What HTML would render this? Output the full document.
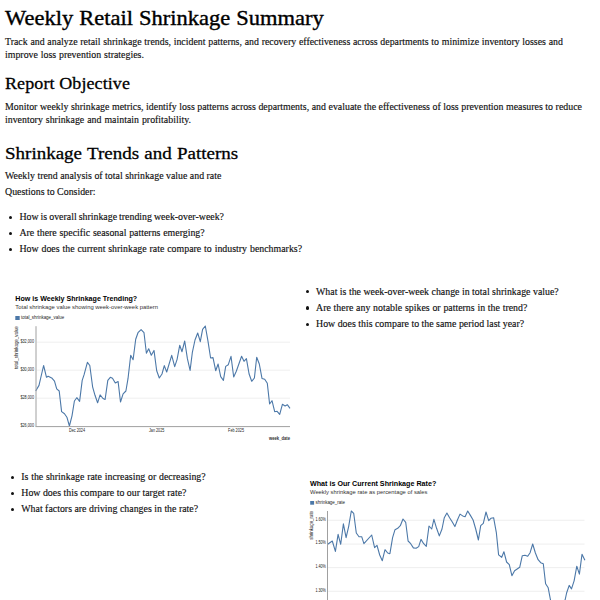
<!DOCTYPE html>
<html>
<head>
<meta charset="utf-8">
<title>Weekly Retail Shrinkage Summary</title>
<style>
html,body{margin:0;padding:0;background:#fff;}
body{width:600px;height:600px;overflow:hidden;position:relative;font-family:"Liberation Serif",serif;color:#000;}
.t{-webkit-text-stroke:0.15px currentColor;}
h2.t{-webkit-text-stroke:0.3px currentColor;}h1.t{-webkit-text-stroke:0.4px currentColor;}
.t{position:absolute;left:5px;white-space:nowrap;margin:0;font-weight:normal;}
h1.t{font-size:22.5px;line-height:22.5px;top:6.7px;transform:scaleY(0.93);transform-origin:0 18px;}
h2.t{line-height:18px;transform:scaleY(0.93);transform-origin:0 15px;}
p.t{font-size:9.9px;line-height:12.5px;color:#111;}
ul.t{list-style:none;padding:0;font-size:9.9px;line-height:16.1px;color:#111;}
ul.t li{position:relative;}
ul.t li::before{content:"";position:absolute;left:-8.7px;top:8.1px;width:3.2px;height:3.2px;margin-top:-1.6px;margin-left:-1.6px;border-radius:50%;background:#111;}
ul.b2 li::before{top:8.8px;}
svg{position:absolute;left:0;top:0;}
</style>
</head>
<body>
<h1 class="t" style="word-spacing:0.4px">Weekly Retail Shrinkage Summary</h1>
<p class="t" style="top:36px"><span style="word-spacing:0.25px">Track and analyze retail shrinkage trends, incident patterns, and recovery effectiveness across departments to minimize inventory losses and</span><br><span style="word-spacing:0.4px">improve loss prevention strategies.</span></p>
<h2 class="t" style="top:73.6px;font-size:18px;letter-spacing:0.1px">Report Objective</h2>
<p class="t" style="top:101.1px"><span style="word-spacing:0.1px">Monitor weekly shrinkage metrics, identify loss patterns across departments, and evaluate the effectiveness of loss prevention measures to reduce</span><br><span style="word-spacing:0.5px">inventory shrinkage and maintain profitability.</span></p>
<h2 class="t" style="top:144.1px;font-size:19px;word-spacing:0.5px">Shrinkage Trends and Patterns</h2>
<p class="t" style="top:170.1px">Weekly trend analysis of total shrinkage value and rate</p>
<p class="t" style="top:186.1px">Questions to Consider:</p>
<ul class="t" style="top:209.2px;left:19.4px">
<li style="word-spacing:-0.45px">How is overall shrinkage trending week-over-week?</li>
<li style="word-spacing:0.3px">Are there specific seasonal patterns emerging?</li>
<li style="word-spacing:0.42px">How does the current shrinkage rate compare to industry benchmarks?</li>
</ul>
<ul class="t" style="top:283.6px;left:316px;line-height:16.25px">
<li>What is the week-over-week change in total shrinkage value?</li>
<li style="word-spacing:0.3px">Are there any notable spikes or patterns in the trend?</li>
<li>How does this compare to the same period last year?</li>
</ul>
<ul class="t b2" style="top:468.6px;left:21.25px">
<li style="word-spacing:0.3px">Is the shrinkage rate increasing or decreasing?</li>
<li>How does this compare to our target rate?</li>
<li>What factors are driving changes in the rate?</li>
</ul>
<svg width="600" height="600" viewBox="0 0 600 600" font-family="Liberation Sans, sans-serif">
<g>
<text x="15.3" y="300.7" font-size="7.1" font-weight="bold" fill="#000" textLength="121.9" lengthAdjust="spacingAndGlyphs">How is Weekly Shrinkage Trending?</text>
<text x="15.3" y="308.8" font-size="5.9" fill="#333" textLength="142.7" lengthAdjust="spacingAndGlyphs">Total shrinkage value showing week-over-week pattern</text>
<rect x="15.3" y="316" width="4.4" height="4" fill="#4c78a8"/>
<text x="21" y="319.4" font-size="4.6" fill="#222" textLength="43.1" lengthAdjust="spacingAndGlyphs">total_shrinkage_value</text>
<g stroke="#e8e8e8" stroke-width="0.7">
<line x1="36.5" y1="342.2" x2="290" y2="342.2"/>
<line x1="36.5" y1="370.2" x2="290" y2="370.2"/>
<line x1="36.5" y1="398.2" x2="290" y2="398.2"/>
</g>
<g font-size="4.7" fill="#222" text-anchor="end">
<text x="34" y="342.8" textLength="13.6" lengthAdjust="spacingAndGlyphs">$32,000</text>
<text x="34" y="370.8" textLength="13.6" lengthAdjust="spacingAndGlyphs">$30,000</text>
<text x="34" y="398.8" textLength="13.6" lengthAdjust="spacingAndGlyphs">$28,000</text>
<text x="34" y="426.7" textLength="13.6" lengthAdjust="spacingAndGlyphs">$26,000</text>
</g>
<g font-size="4.7" fill="#222">
<text x="69" y="431.8" textLength="16" lengthAdjust="spacingAndGlyphs">Dec 2024</text>
<text x="149" y="431.8" textLength="15.3" lengthAdjust="spacingAndGlyphs">Jan 2025</text>
<text x="228.1" y="431.8" textLength="15.9" lengthAdjust="spacingAndGlyphs">Feb 2025</text>
</g>
<text x="269" y="439.6" font-size="4.8" font-weight="bold" fill="#333" textLength="21" lengthAdjust="spacingAndGlyphs">week_date</text>
<text transform="translate(18.1,369.1) rotate(-90)" font-size="4.9" fill="#222" textLength="42.9" lengthAdjust="spacingAndGlyphs">total_shrinkage_value</text>
<polyline fill="none" stroke="#4c78a8" stroke-width="1.1" stroke-linejoin="round" points="35.7,391.0 39.0,385.4 43.6,365.5 46.5,377.3 48.2,376.2 51.7,377.9 54.5,381.1 56.7,388.9 59.2,391.0 61.6,411.6 64.5,413.7 66.9,417.2 69.4,426.0 72.0,415.8 74.4,401.0 76.8,397.7 79.6,401.4 82.2,380.4 84.1,374.7 87.4,362.3 89.8,365.5 92.6,386.8 95.0,395.3 97.6,402.8 100.1,394.9 103.0,398.5 105.1,399.5 107.8,380.4 110.3,377.3 112.5,378.3 115.3,383.0 118.1,381.5 120.5,402.0 123.1,393.9 125.9,391.0 128.0,378.7 130.7,355.3 133.1,359.7 135.7,339.3 138.0,332.7 141.1,329.6 144.0,332.7 146.4,353.3 148.7,348.7 151.3,355.3 154.0,350.4 156.7,370.7 159.3,378.0 162.0,374.0 164.3,365.6 166.7,372.0 171.7,355.3 174.7,366.7 177.1,359.3 179.7,345.3 182.0,351.7 184.7,341.0 187.4,358.7 190.1,370.4 192.3,352.7 195.0,340.0 197.7,333.0 200.3,341.6 202.6,329.3 205.3,326.0 207.9,340.7 210.6,358.0 213.0,357.6 215.7,370.7 218.1,364.0 220.7,376.7 223.4,380.3 225.7,366.4 228.3,364.7 231.0,356.3 233.7,377.0 236.3,371.3 241.6,356.3 244.0,361.3 246.4,358.7 249.1,374.0 251.7,381.3 254.4,378.0 256.7,357.3 259.3,364.0 262.0,378.4 264.7,379.3 267.3,383.3 269.6,404.0 272.0,400.7 274.7,411.7 277.1,411.3 279.7,414.4 282.4,404.3 285.1,406.0 287.3,404.7 290.0,408.3"/>
<line x1="36" y1="326.2" x2="36" y2="426.6" stroke="#a0a0a0" stroke-width="1"/>
<line x1="35.5" y1="426.6" x2="290" y2="426.6" stroke="#a0a0a0" stroke-width="1"/>
</g>
<g>
<text x="310" y="485.75" font-size="7.15" font-weight="bold" fill="#000" textLength="126.25" lengthAdjust="spacingAndGlyphs">What is Our Current Shrinkage Rate?</text>
<text x="310" y="493.75" font-size="5.9" fill="#333" textLength="117.5" lengthAdjust="spacingAndGlyphs">Weekly shrinkage rate as percentage of sales</text>
<rect x="310.2" y="501" width="3.9" height="3.7" fill="#4c78a8"/>
<text x="315.5" y="504.3" font-size="4.6" fill="#222" textLength="29.5" lengthAdjust="spacingAndGlyphs">shrinkage_rate</text>
<g stroke="#e8e8e8" stroke-width="0.7">
<line x1="328" y1="520.3" x2="584.5" y2="520.3"/>
<line x1="328" y1="544.1" x2="584.5" y2="544.1"/>
<line x1="328" y1="567.6" x2="584.5" y2="567.6"/>
<line x1="328" y1="591.3" x2="584.5" y2="591.3"/>
</g>
<g font-size="4.7" fill="#222" text-anchor="end">
<text x="325.9" y="521.2" textLength="10.5" lengthAdjust="spacingAndGlyphs">1.60%</text>
<text x="325.9" y="544.3" textLength="10.5" lengthAdjust="spacingAndGlyphs">1.50%</text>
<text x="325.9" y="568.1" textLength="10.5" lengthAdjust="spacingAndGlyphs">1.40%</text>
<text x="325.9" y="592.1" textLength="10.5" lengthAdjust="spacingAndGlyphs">1.30%</text>
</g>
<text transform="translate(313.1,539.7) rotate(-90)" font-size="4.9" fill="#222" textLength="28.7" lengthAdjust="spacingAndGlyphs">shrinkage_rate</text>
<polyline fill="none" stroke="#4c78a8" stroke-width="1.1" stroke-linejoin="round" points="327.7,544.3 332.3,541.0 335.4,551.4 338.1,534.3 340.7,544.3 343.4,523.9 346.1,537.7 348.7,526.3 351.3,511.0 353.7,513.3 356.3,533.0 359.0,536.7 361.7,536.7 363.9,543.7 371.7,535.0 374.6,547.7 377.0,545.3 379.7,555.0 382.3,560.7 385.0,549.7 387.7,553.0 389.9,553.7 392.6,537.7 395.0,529.7 397.7,528.3 400.3,525.7 403.0,519.0 405.7,522.3 408.1,541.0 410.7,543.7 413.4,547.9 416.1,548.3 418.7,546.6 421.0,539.4 423.7,543.7 426.3,546.3 429.0,526.0 431.7,529.0 433.9,519.4 436.6,528.3 439.3,535.9 442.0,529.0 444.3,517.7 446.9,513.0 449.6,517.7 452.3,522.0 454.9,526.6 457.3,520.3 460.0,514.1 462.7,515.9 465.1,516.7 467.7,511.0 470.4,515.4 473.1,520.0 475.7,529.0 478.4,540.0 480.7,525.7 483.3,523.4 486.0,512.0 488.7,520.7 490.9,518.3 493.6,517.7 496.3,532.3 498.6,554.9 501.7,557.3 503.9,551.7 506.6,562.0 509.3,564.7 511.9,575.7 514.6,570.7 519.7,567.3 522.3,555.7 525.0,555.3 527.7,556.3 530.1,552.7 532.7,544.0 535.4,553.0 538.1,559.7 540.7,562.7 543.3,563.8 545.6,583.7 548.2,587.8 550.5,600.0 553.0,608.0 556.0,612.0 560.0,610.0 563.0,606.0 565.1,600.0 566.6,593.0 569.2,585.4 571.5,588.9 574.1,580.8 576.8,566.2 579.4,574.1 582.0,554.3 584.9,560.3"/>
<line x1="327.5" y1="511" x2="327.5" y2="600" stroke="#a0a0a0" stroke-width="1"/>
</g>
</svg>
</body>
</html>
